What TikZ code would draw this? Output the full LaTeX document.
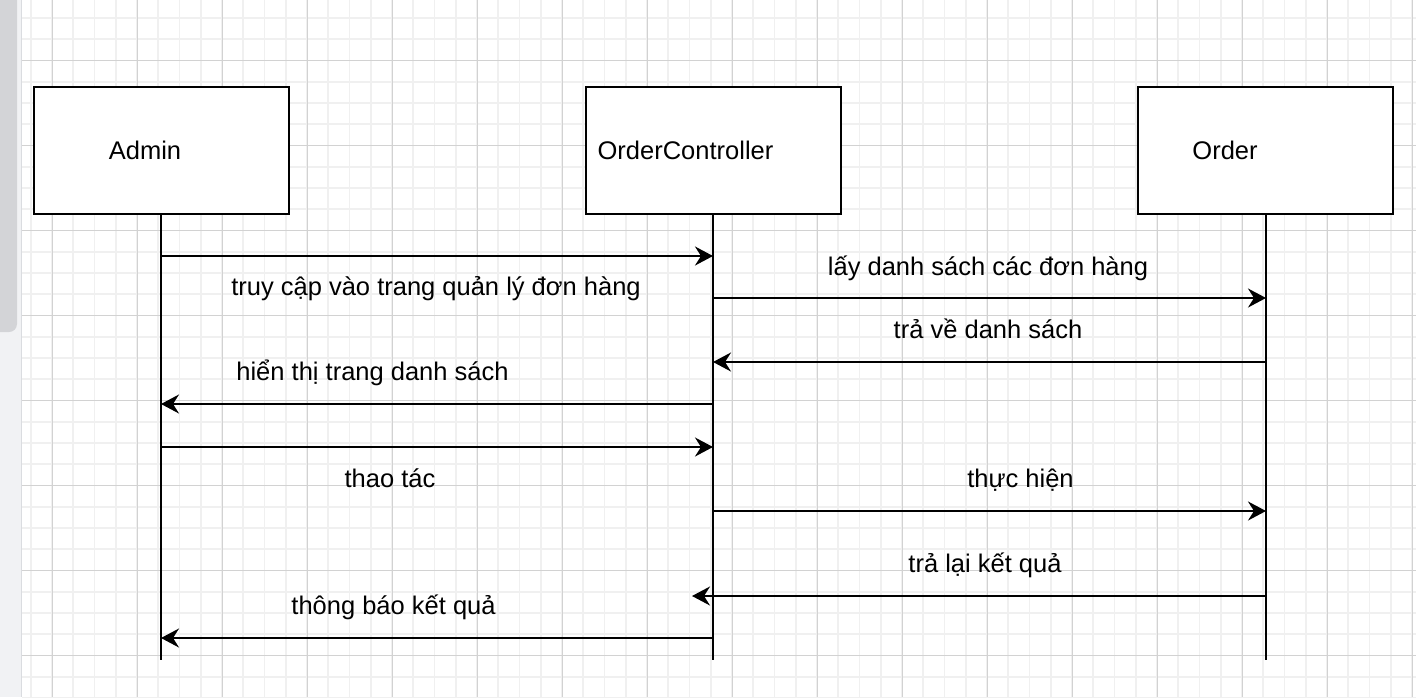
\documentclass[tikz,border=0pt]{standalone}
\usepackage{fontspec}
\setmainfont{Liberation Sans}
\usetikzlibrary{arrows.meta}
\definecolor{minorgrid}{HTML}{F0F0F0}
\definecolor{majorgrid}{HTML}{D2D2D2}
\definecolor{panelbg}{HTML}{F1F2F4}
\definecolor{panelline}{HTML}{DADCE0}
\definecolor{thumb}{HTML}{D3D4D7}
\tikzset{
  box/.style={draw=black, line width=2pt, fill=white, minimum width=255pt, minimum height=127pt, inner sep=0pt},
  lbl/.style={anchor=base, inner sep=0pt, font=\fontsize{25.5}{30}\selectfont},
  life/.style={line width=2.1pt},
  msg/.style={line width=2.1pt, -{Stealth[length=18pt,width=19pt,inset=6pt]}},
}
\begin{document}
\begin{tikzpicture}[x=1pt,y=-1pt]
\useasboundingbox (0,0) rectangle (1419,697);
\fill[white] (0,0) rectangle (1419,697);
% grid
\foreach \i in {0,...,65} {
  \draw[minorgrid, line width=1.6pt] ({30.75+21.25*\i},0) -- ({30.75+21.25*\i},697);
}
\foreach \j in {-2,...,32} {
  \draw[minorgrid, line width=1.6pt] (22,{60.5+21.25*\j}) -- (1416,{60.5+21.25*\j});
}
\foreach \i in {0,...,16} {
  \draw[majorgrid, line width=1pt] ({52+85*\i},0) -- ({52+85*\i},697);
}
\foreach \j in {0,...,7} {
  \draw[majorgrid, line width=1pt] (22,{60.5+85*\j}) -- (1416,{60.5+85*\j});
}
% left panel and scrollbar
\fill[panelbg] (0,0) rectangle (21,697);
\draw[panelline, line width=1.5pt] (21.5,0) -- (21.5,697);
\fill[thumb, rounded corners=8pt] (-10,-10) rectangle (17,332);
% boxes
\node[box] (admin) at (161,150) {};
\node[box] (oc) at (713.5,150) {};
\node[box] (order) at (1265.5,150) {};
\node[lbl] (adminL) at (145,159) {Admin};
\node[lbl] (ocL) at (685.5,159) {OrderController};
\node[lbl] (orderL) at (1225,159) {Order};
% lifelines
\coordinate (adminE) at (161,660);
\coordinate (ocE) at (713,660);
\coordinate (orderE) at (1266,660);
\draw[life] (admin.south -| adminE) -- (adminE);
\draw[life] (oc.south -| ocE) -- (ocE);
\draw[life] (order.south -| orderE) -- (orderE);
% messages
\draw[msg] (adminE |- 0,256) -- (ocE |- 0,256);
\node[lbl] (m1) at (436,295) {truy cập vào trang quản lý đơn hàng};
\draw[msg] (ocE |- 0,298) -- (orderE |- 0,298);
\node[lbl] (m2) at (988,275) {lấy danh sách các đơn hàng};
\draw[msg] (orderE |- 0,362) -- (ocE |- 0,362);
\node[lbl] (m3) at (988,338) {trả về danh sách};
\draw[msg] (ocE |- 0,404) -- (adminE |- 0,404);
\node[lbl] (m4) at (372.5,380) {hiển thị trang danh sách};
\draw[msg] (adminE |- 0,447) -- (ocE |- 0,447);
\node[lbl] (m5) at (390,487) {thao tác};
\draw[msg] (ocE |- 0,511) -- (orderE |- 0,511);
\node[lbl] (m6) at (1020.5,487) {thực hiện};
\coordinate (m7end) at (692,596);
\draw[msg] (orderE |- 0,596) -- (m7end);
\node[lbl] (m7) at (985,572) {trả lại kết quả};
\draw[msg] (ocE |- 0,638) -- (adminE |- 0,638);
\node[lbl] (m8) at (393.5,614) {thông báo kết quả};
\end{tikzpicture}
\end{document}
